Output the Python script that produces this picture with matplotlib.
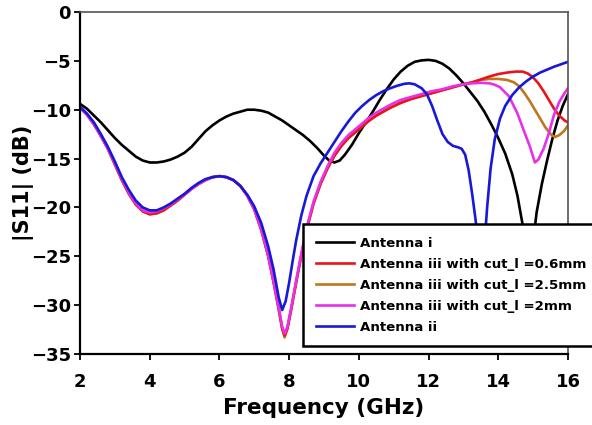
import matplotlib
matplotlib.use("Agg")
import matplotlib.pyplot as plt

# |S11| traces (GHz, dB)
freq_i = [2.0, 2.2, 2.4, 2.6, 2.8, 3.0, 3.2, 3.4, 3.6, 3.8, 4.0, 4.2, 4.4, 4.6,
          4.8, 5.0, 5.2, 5.4, 5.6, 5.8, 6.0, 6.2, 6.4, 6.6, 6.8, 7.0, 7.2, 7.4,
          7.6, 7.8, 8.0, 8.2, 8.4, 8.6, 8.8, 9.0, 9.15, 9.3, 9.45, 9.6, 9.8,
          10.0, 10.2, 10.4, 10.6, 10.8, 11.0, 11.2, 11.4, 11.6, 11.8, 12.0,
          12.2, 12.4, 12.6, 12.8, 13.0, 13.2, 13.4, 13.6, 13.8, 14.0, 14.2, 14.4,
          14.55, 14.7, 14.8, 14.9, 15.0, 15.1, 15.25, 15.4, 15.55, 15.7, 15.85, 16.0]
s11_i = [-9.4, -9.9, -10.6, -11.3, -12.1, -12.9, -13.6, -14.2, -14.8, -15.2,
         -15.4, -15.4, -15.3, -15.1, -14.8, -14.4, -13.8, -13.0, -12.2, -11.6,
         -11.1, -10.7, -10.4, -10.2, -10.0, -10.0, -10.1, -10.3, -10.7, -11.1,
         -11.6, -12.1, -12.6, -13.2, -13.9, -14.7, -15.2, -15.4, -15.2, -14.6,
         -13.6, -12.4, -11.3, -10.2, -9.0, -7.9, -6.9, -6.1, -5.5, -5.1, -4.95,
         -4.9, -5.0, -5.3, -5.8, -6.5, -7.3, -8.2, -9.1, -10.2, -11.5, -12.9,
         -14.5, -16.6, -18.8, -21.8, -24.5, -27.0, -23.5, -20.5, -17.6, -15.2,
         -13.0, -11.1, -9.6, -8.4]

freq_ii = [2.0, 2.2, 2.4, 2.6, 2.8, 3.0, 3.2, 3.4, 3.6, 3.8, 4.0, 4.2, 4.4, 4.6,
           4.8, 5.0, 5.2, 5.4, 5.6, 5.8, 6.0, 6.2, 6.4, 6.6, 6.8, 7.0, 7.2, 7.4,
           7.55, 7.7, 7.8, 7.9, 8.0, 8.1, 8.2, 8.35, 8.5, 8.7, 8.9, 9.1, 9.3,
           9.5, 9.7, 9.9, 10.1, 10.3, 10.5, 10.7, 10.9, 11.1, 11.3, 11.45, 11.6,
           11.8, 11.95, 12.1, 12.25, 12.4, 12.55, 12.7, 12.85, 12.95, 13.05,
           13.15, 13.25, 13.35, 13.45, 13.52, 13.6, 13.68, 13.78, 13.9, 14.05,
           14.2, 14.4, 14.6, 14.8, 15.0, 15.2, 15.4, 15.6, 15.8, 16.0]
s11_ii = [-9.7, -10.4, -11.3, -12.5, -13.8, -15.3, -16.9, -18.2, -19.3, -20.0,
          -20.3, -20.3, -20.0, -19.6, -19.1, -18.6, -18.0, -17.5, -17.1, -16.9,
          -16.8, -16.9, -17.2, -17.8, -18.7, -19.9, -21.6, -24.0, -26.3, -29.2,
          -30.5, -29.6, -27.7, -25.5, -23.4, -20.8, -18.8, -16.8, -15.5, -14.4,
          -13.3, -12.2, -11.2, -10.3, -9.6, -9.0, -8.5, -8.1, -7.8, -7.55, -7.35,
          -7.3, -7.4, -7.8, -8.4, -9.6, -11.1, -12.5, -13.3, -13.7, -13.85, -14.0,
          -14.6, -16.2, -18.6, -21.3, -25.0, -27.5, -24.0, -20.0, -16.0, -13.0,
          -10.9, -9.6, -8.5, -7.7, -7.1, -6.6, -6.2, -5.9, -5.6, -5.35, -5.1]

# Antenna iii, common part of the three cut_l traces
freq_iii = [2.0, 2.2, 2.4, 2.6, 2.8, 3.0, 3.2, 3.4, 3.6, 3.8, 4.0, 4.2, 4.4, 4.6,
            4.8, 5.0, 5.2, 5.4, 5.6, 5.8, 6.0, 6.2, 6.4, 6.6, 6.8, 7.0, 7.2, 7.4,
            7.55, 7.7, 7.8, 7.87, 7.95, 8.05, 8.2, 8.35, 8.5, 8.7, 8.9, 9.1, 9.3,
            9.5, 9.7, 9.9, 10.1, 10.3, 10.5, 10.7, 10.9, 11.2, 11.5, 11.8, 12.1,
            12.4, 12.7, 13.0, 13.25]
s11_iii = [-9.8, -10.5, -11.5, -12.7, -14.0, -15.6, -17.2, -18.6, -19.7, -20.4,
           -20.7, -20.6, -20.3, -19.8, -19.3, -18.7, -18.1, -17.6, -17.2, -16.9,
           -16.8, -16.9, -17.2, -17.8, -18.8, -20.2, -22.3, -25.0, -27.6, -30.4,
           -32.4, -33.1, -32.4, -30.6, -27.7, -24.9, -22.3, -19.6, -17.6, -16.0,
           -14.7, -13.7, -12.9, -12.3, -11.7, -11.1, -10.6, -10.2, -9.8, -9.3,
           -8.9, -8.6, -8.3, -8.0, -7.7, -7.4, -7.2]

# cut_l = 0.6 mm
freq_06 = freq_iii + [13.5, 13.75, 14.0, 14.25, 14.5, 14.7, 14.85, 15.0, 15.15,
                      15.3, 15.45, 15.6, 15.75, 15.9, 16.0]
s11_06 = s11_iii + [-6.9, -6.6, -6.35, -6.2, -6.1, -6.1, -6.3, -6.7, -7.3,
                    -8.1, -9.0, -9.9, -10.6, -11.1, -11.3]

# cut_l = 2.5 mm
freq_25 = freq_iii + [13.5, 13.75, 14.0, 14.25, 14.45, 14.6, 14.75, 14.9, 15.05,
                      15.2, 15.35, 15.5, 15.62, 15.75, 15.88, 16.0]
s11_25 = s11_iii[:31] + [-33.3] + s11_iii[32:] + [
    -6.95, -6.85, -6.85, -6.95, -7.2, -7.6, -8.3, -9.1, -10.0, -10.9, -11.8,
    -12.5, -12.8, -12.6, -12.2, -11.6]

# cut_l = 2 mm
freq_2 = freq_iii[:-1] + [13.25, 13.5, 13.75, 13.9, 14.05, 14.3, 14.54, 14.75,
                          14.91, 15.05, 15.15, 15.3, 15.45, 15.6, 15.75, 15.9, 16.0]
s11_2 = [-9.8, -10.5, -11.5, -12.7, -14.0, -15.5, -17.1, -18.5, -19.6, -20.3,
         -20.5, -20.4, -20.1, -19.7, -19.2, -18.7, -18.1, -17.6, -17.2, -16.9,
         -16.8, -16.9, -17.2, -17.8, -18.8, -20.2, -22.2, -24.9, -27.5, -30.2,
         -32.2, -32.9, -32.2, -30.4, -27.5, -24.7, -22.1, -19.4, -17.4, -15.8,
         -14.4, -13.4, -12.6, -12.0, -11.4, -10.8, -10.3, -9.9, -9.5, -9.0,
         -8.7, -8.4, -8.1, -7.9, -7.6, -7.4,
         -7.3, -7.25, -7.3, -7.45, -7.7, -8.6, -10.3, -12.3, -13.8, -15.4, -15.1,
         -14.0, -12.4, -10.5, -9.2, -8.3, -7.8]

plt.rcParams['font.family'] = 'DejaVu Sans'
plt.rcParams['font.weight'] = 'bold'

fig = plt.figure(figsize=(5.92, 4.25), dpi=100)
ax = fig.add_axes([80/592, 71/425, 488/592, 342/425])

lw = 1.9
l_i, = ax.plot(freq_i, s11_i, color='black', lw=lw, label='Antenna i')
l_25, = ax.plot(freq_25, s11_25, color='#c0761c', lw=lw,
                label='Antenna iii with cut_l =2.5mm')
l_06, = ax.plot(freq_06, s11_06, color='#e8141c', lw=lw,
                label='Antenna iii with cut_l =0.6mm')
l_2, = ax.plot(freq_2, s11_2, color='#e830e8', lw=lw,
               label='Antenna iii with cut_l =2mm')
l_ii, = ax.plot(freq_ii, s11_ii, color='#1818d8', lw=lw, label='Antenna ii')

ax.set_xlim(2, 16)
ax.set_ylim(-35, 0)
ax.set_xticks(range(2, 17, 2))
ax.set_yticks(range(-35, 1, 5))
ax.tick_params(direction='out', length=4.5, width=1.3, labelsize=13,
               top=False, right=False)
ax.tick_params(axis='x', pad=9)
ax.tick_params(axis='y', pad=2)
for lbl in ax.get_xticklabels() + ax.get_yticklabels():
    lbl.set_fontweight('bold')

for side in ['left', 'bottom']:
    ax.spines[side].set_linewidth(1.6)
    ax.spines[side].set_color('black')
for side in ['top', 'right']:
    ax.spines[side].set_linewidth(1.2)
    ax.spines[side].set_color('#555555')

ax.set_xlabel('Frequency (GHz)', fontsize=15.5, fontweight='bold', labelpad=5)
ax.set_ylabel('|S11| (dB)', fontsize=15, fontweight='bold', labelpad=-2)

leg = fig.legend(handles=[l_i, l_06, l_25, l_2, l_ii],
                 loc='upper left', bbox_to_anchor=(303/592, 1 - 224/425),
                 fontsize=9.6, frameon=True, fancybox=False, handlelength=2.85,
                 handletextpad=0.5, labelspacing=0.6, borderpad=0.95,
                 borderaxespad=0)
leg.get_frame().set_edgecolor('black')
leg.get_frame().set_linewidth(1.8)
leg.get_frame().set_alpha(1)
for t in leg.get_texts():
    t.set_fontweight('bold')

fig.savefig('out.png', dpi=100)
